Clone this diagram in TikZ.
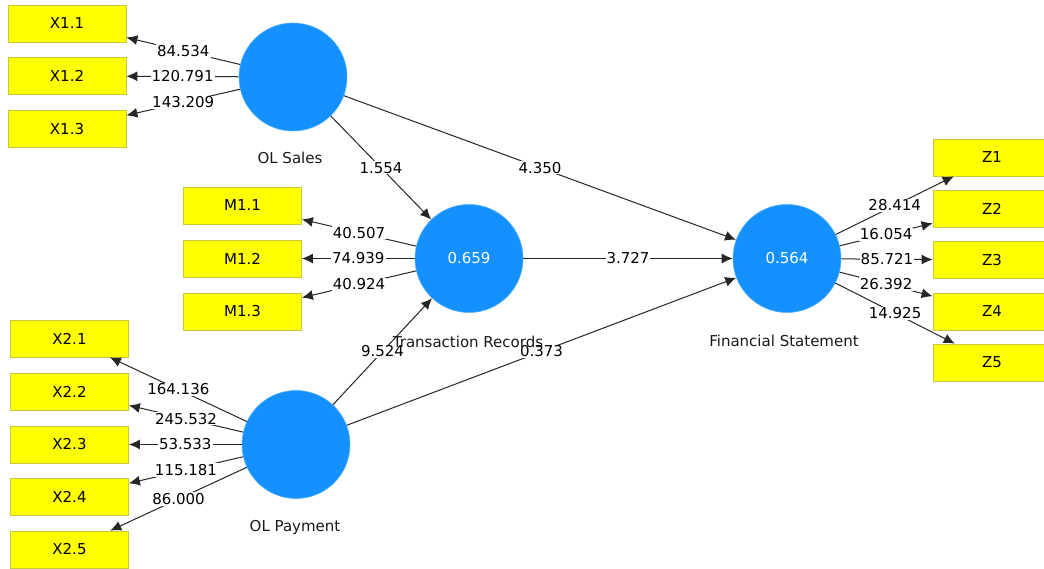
\documentclass[tikz,border=0pt]{standalone}
\usepackage{fontspec}
\setmainfont{DejaVu Sans}
\usetikzlibrary{arrows.meta}
\definecolor{lvblue}{RGB}{21,145,255}
\definecolor{indyel}{RGB}{255,255,0}
\definecolor{indborder}{RGB}{200,200,60}
\begin{document}
\begin{tikzpicture}[x=1pt,y=-1pt, font=\fontsize{15}{17}\selectfont,
  ind/.style={draw=indborder, fill=indyel, minimum width=118pt, minimum height=37pt, inner sep=0pt, line width=0.8pt},
  lv/.style={circle, fill=lvblue, draw=lvblue!75, line width=0.6pt, minimum size=108pt, inner sep=0pt, text=white},
  lnk/.style={draw=black!85, line width=1pt, -{Latex[length=11pt,width=10pt]}},
  val/.style={midway, fill=white, inner sep=1pt, text=black},
  lvname/.style={text=black!90}]
\useasboundingbox (0,0) rectangle (1044,569);
\fill[white] (0,0) rectangle (1044,569);
% indicators
\node[ind] (X11) at (67,23.5) {X1.1};
\node[ind] (X12) at (67,76) {X1.2};
\node[ind] (X13) at (67,129) {X1.3};
\node[ind] (M11) at (242.5,205.5) {M1.1};
\node[ind] (M12) at (242.5,258.5) {M1.2};
\node[ind] (M13) at (242.5,311.5) {M1.3};
\node[ind] (X21) at (69.5,338.5) {X2.1};
\node[ind] (X22) at (69.5,391.5) {X2.2};
\node[ind] (X23) at (69.5,444.5) {X2.3};
\node[ind] (X24) at (69.5,497) {X2.4};
\node[ind] (X25) at (69.5,549.5) {X2.5};
\node[ind] (Z1) at (992,157.5) {Z1};
\node[ind] (Z2) at (992,209) {Z2};
\node[ind] (Z3) at (992,260) {Z3};
\node[ind] (Z4) at (992,311.5) {Z4};
\node[ind] (Z5) at (992,362.5) {Z5};
% latent variables
\node[lv] (OLS) at (293,77) {};
\node[lv] (TR) at (469,258.5) {0.659};
\node[lv] (FS) at (787,258.5) {0.564};
\node[lv] (OLP) at (296,444.5) {};
% outer loadings
\draw[lnk] (OLS) -- node[val]{84.534} (X11);
\draw[lnk] (OLS) -- node[val]{120.791} (X12);
\draw[lnk] (OLS) -- node[val]{143.209} (X13);
\draw[lnk] (TR) -- node[val]{40.507} (M11);
\draw[lnk] (TR) -- node[val]{74.939} (M12);
\draw[lnk] (TR) -- node[val]{40.924} (M13);
\draw[lnk] (OLP) -- node[val]{164.136} (X21);
\draw[lnk] (OLP) -- node[val]{245.532} (X22);
\draw[lnk] (OLP) -- node[val]{53.533} (X23);
\draw[lnk] (OLP) -- node[val]{115.181} (X24);
\draw[lnk] (OLP) -- node[val]{86.000} (X25);
\draw[lnk] (FS) -- node[val]{28.414} (Z1);
\draw[lnk] (FS) -- node[val]{16.054} (Z2);
\draw[lnk] (FS) -- node[val]{85.721} (Z3);
\draw[lnk] (FS) -- node[val]{26.392} (Z4);
\draw[lnk] (FS) -- node[val]{14.925} (Z5);
% structural paths
\draw[lnk] (OLS) -- node[val]{1.554} (TR);
\draw[lnk] (OLS) -- node[val]{4.350} (FS);
\draw[lnk] (TR) -- node[val]{3.727} (FS);
\draw[lnk] (OLP) -- node[val]{9.524} (TR);
\draw[lnk] (OLP) -- node[val]{0.373} (FS);
% latent names
\node[lvname] (nOLS) at (290,158) {OL Sales};
\node[lvname] (nTR) at (468,342) {Transaction Records};
\node[lvname] (nFS) at (784,341) {Financial Statement};
\node[lvname] (nOLP) at (295,527) {OL Payment};
\end{tikzpicture}
\end{document}
